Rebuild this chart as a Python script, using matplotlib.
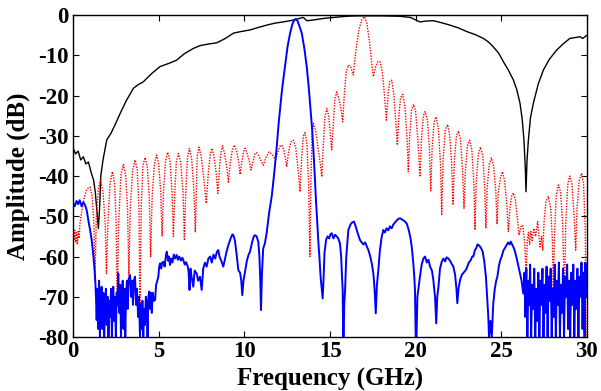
import numpy as np
import matplotlib
matplotlib.use("Agg")
import matplotlib.pyplot as plt

# ---------------- data ----------------
x_ticks = [0, 5, 10, 15, 20, 25, 30]
y_ticks = [0, -10, -20, -30, -40, -50, -60, -70, -80]

black = [(0, -33), (0.15, -34.5), (0.3, -33.8), (0.45, -36), (0.6, -35.2), (0.75, -37), (0.9, -36.5),
         (1.05, -39), (1.2, -41), (1.3, -44), (1.4, -49), (1.48, -53), (1.55, -48), (1.62, -40),
         (1.75, -36), (1.97, -31), (2.2, -29.5), (2.45, -27.3), (2.8, -24), (3.13, -21.1), (3.35, -19.5),
         (3.52, -18.2), (3.8, -17.3), (4.1, -16.6), (4.6, -14.5), (5.08, -12.8), (5.6, -12.0),
         (6.05, -11.2), (6.5, -9.6), (7.02, -8.3), (7.41, -7.6), (7.9, -7.2), (8.39, -6.9), (8.9, -5.8),
         (9.36, -4.5), (9.8, -4.1), (10.33, -3.7), (10.8, -3.1), (11.3, -2.5), (11.8, -2.0),
         (12.28, -1.7), (12.8, -1.3), (13.25, -0.8), (13.45, -0.6), (13.64, -1.4), (13.9, -1.3),
         (14.22, -1.1), (14.7, -0.8), (15.19, -0.6), (15.7, -0.4), (16.17, -0.25), (16.7, -0.2),
         (17.14, -0.2), (18.0, -0.2), (19.09, -0.3), (19.7, -0.6), (20.25, -1.7), (20.6, -1.5),
         (21.03, -1.4), (21.5, -1.9), (22.0, -2.5), (22.5, -3.2), (22.98, -4.1), (23.5, -4.9),
         (23.95, -5.8), (24.25, -6.7), (24.53, -7.9), (24.85, -9.5), (25.12, -11.6), (25.4, -13.6),
         (25.7, -16.1), (25.9, -18.5), (26.09, -21.9), (26.22, -26), (26.32, -31), (26.4, -38),
         (26.44, -43.9), (26.5, -36), (26.58, -31), (26.7, -25.5), (26.87, -21.9), (27.15, -17.2),
         (27.45, -13.7), (27.8, -11), (28.23, -8.7), (28.6, -7.2), (29.0, -5.8), (29.3, -5.6),
         (29.59, -5.4), (29.75, -5.8), (30.0, -5.0)]

red = [(0.0, -60), (0.0, -54), (0.05, -56), (0.1, -53.5), (0.15, -56.5), (0.2, -54), (0.25, -57),
       (0.3, -53.8), (0.35, -55.5), (0.4, -52), (0.5, -49), (0.65, -45.5), (0.8, -43.3), (0.99, -42.7),
       (1.12, -45), (1.22, -52), (1.28, -66), (1.36, -50), (1.48, -43), (1.61, -41), (1.75, -44),
       (1.88, -52), (1.95, -64.2), (2.05, -50), (2.17, -41.5), (2.3, -38.9), (2.43, -42), (2.52, -52),
       (2.58, -72.5), (2.66, -52), (2.8, -39.5), (2.94, -37.1), (3.08, -40), (3.18, -48), (3.26, -64.6),
       (3.34, -48), (3.48, -38.5), (3.62, -36), (3.75, -38.5), (3.85, -48), (3.91, -75), (3.98, -48),
       (4.08, -37.5), (4.2, -35.4), (4.33, -37.5), (4.45, -45), (4.53, -60), (4.62, -45), (4.75, -37),
       (4.88, -34.8), (5.0, -37), (5.12, -44), (5.2, -55), (5.28, -44), (5.4, -36.3), (5.53, -34.1),
       (5.66, -36.3), (5.78, -44), (5.86, -55), (5.94, -44), (6.03, -36.5), (6.15, -34.4),
       (6.28, -36.5), (6.42, -44), (6.5, -55.7), (6.58, -44), (6.68, -35.5), (6.79, -33.1),
       (6.92, -35.5), (7.05, -43), (7.14, -54), (7.2, -43), (7.25, -35), (7.35, -32.8), (7.48, -35),
       (7.62, -40), (7.78, -46.8), (7.9, -39), (8.0, -35), (8.1, -33.1), (8.22, -35), (8.35, -39),
       (8.45, -44.3), (8.55, -38), (8.62, -34.5), (8.72, -32.5), (8.85, -34.5), (8.98, -38),
       (9.07, -41.7), (9.18, -36.5), (9.3, -33.5), (9.42, -32.3), (9.55, -33.8), (9.67, -36.5),
       (9.75, -39.6), (9.85, -36.5), (9.95, -34), (10.04, -33.1), (10.15, -34.2), (10.3, -36.5),
       (10.39, -38.5), (10.5, -36.5), (10.62, -34.5), (10.72, -34.2), (10.85, -35), (11.0, -36.5),
       (11.11, -37.3), (11.25, -35.5), (11.44, -34.0), (11.6, -34.5), (11.75, -35.5), (11.83, -35.9),
       (11.95, -34), (12.08, -32.6), (12.18, -32.3), (12.3, -33.5), (12.4, -35.5), (12.47, -37.7),
       (12.58, -34), (12.72, -31.5), (12.86, -31.1), (13.0, -33), (13.15, -39), (13.25, -43.9),
       (13.35, -35), (13.45, -30), (13.54, -29.2), (13.65, -32), (13.75, -42), (13.83, -60),
       (13.88, -42), (13.95, -30), (14.03, -26.9), (14.15, -28.5), (14.3, -33), (14.45, -37.5),
       (14.52, -40.2), (14.6, -33), (14.7, -25.5), (14.81, -23.2), (14.92, -25), (15.02, -29.5),
       (15.1, -33.5), (15.18, -28), (15.28, -21), (15.39, -19.1), (15.5, -20.5), (15.65, -23.5),
       (15.74, -26.5), (15.83, -20), (15.95, -14), (16.07, -12.4), (16.2, -12.8), (16.36, -14.9),
       (16.5, -9), (16.7, -3.5), (16.85, -1.2), (17.0, -0.4), (17.15, -2), (17.3, -6.5),
       (17.45, -12.5), (17.53, -15.3), (17.65, -13), (17.8, -11.5), (17.92, -11.6), (18.05, -14),
       (18.18, -20), (18.29, -26.1), (18.4, -19), (18.5, -16.3), (18.6, -16.2), (18.72, -19.5),
       (18.85, -27), (18.93, -32.3), (19.02, -25), (19.12, -20.5), (19.25, -19.7), (19.38, -23),
       (19.5, -31), (19.57, -38.9), (19.65, -30), (19.76, -23.5), (19.88, -22.2), (20.0, -24),
       (20.13, -31), (20.25, -40.2), (20.35, -30), (20.45, -25), (20.55, -24), (20.68, -26),
       (20.8, -33), (20.88, -43.7), (20.96, -33), (21.08, -26.5), (21.19, -25.3), (21.32, -28),
       (21.45, -37), (21.52, -49.5), (21.6, -36), (21.73, -28.5), (21.86, -27.2), (21.98, -29.5),
       (22.1, -37), (22.18, -47.2), (22.26, -36), (22.38, -30), (22.49, -28.8), (22.62, -31),
       (22.74, -39), (22.82, -48), (22.9, -39), (23.02, -32.5), (23.15, -31.1), (23.28, -33.5),
       (23.4, -42), (23.46, -53.4), (23.53, -42), (23.66, -34.5), (23.78, -32.8), (23.92, -35),
       (24.03, -43), (24.1, -53), (24.17, -43), (24.3, -37), (24.42, -35.5), (24.55, -37.5),
       (24.68, -44), (24.75, -52), (24.82, -44), (24.95, -40.5), (25.06, -38.9), (25.18, -41),
       (25.32, -47), (25.41, -53.8), (25.5, -48), (25.6, -45), (25.7, -44.2), (25.82, -46),
       (25.95, -51), (26.03, -54.7), (26.15, -52.5), (26.25, -52.2), (26.35, -56), (26.45, -63.8),
       (26.52, -56), (26.58, -54), (26.65, -57), (26.72, -53.8), (26.8, -56), (26.9, -53), (27.0, -55),
       (27.12, -51.3), (27.2, -55), (27.26, -57.6), (27.35, -55), (27.42, -58.4), (27.5, -51),
       (27.6, -46.5), (27.74, -45.1), (27.88, -48), (27.98, -56), (28.03, -68.7), (28.1, -55),
       (28.2, -45), (28.33, -42.2), (28.46, -44), (28.58, -52), (28.68, -70), (28.76, -52), (28.88, -42),
       (29.0, -40), (29.12, -42), (29.25, -50), (29.34, -58.4), (29.42, -48), (29.55, -41),
       (29.69, -39.3), (29.8, -42), (29.9, -53.4), (29.95, -80)]

blue = [(0, -46.8), (0.1, -47.5), (0.2, -46.2), (0.3, -47), (0.39, -46), (0.5, -47.5), (0.6, -46.5),
        (0.7, -47.2), (0.8, -48.5), (0.89, -50.9), (1.0, -53.5), (1.09, -55.9), (1.17, -59),
        (1.24, -62.5), (1.3, -66), (1.34, -70), (1.38, -75.8), (1.42, -68), (1.47, -78), (1.52, -66),
        (1.57, -80), (1.62, -70), (1.67, -67.5), (1.72, -78), (1.77, -69), (1.82, -80), (1.87, -72),
        (1.92, -68), (1.97, -77), (2.02, -70), (2.07, -80), (2.12, -71), (2.17, -75), (2.22, -68),
        (2.27, -80), (2.32, -70), (2.35, -67.5), (2.4, -76), (2.45, -70), (2.5, -80), (2.55, -69),
        (2.6, -72), (2.64, -64.2), (2.7, -74), (2.75, -67), (2.8, -80), (2.85, -70), (2.9, -66),
        (2.95, -78), (3.0, -68), (3.05, -80), (3.1, -69), (3.15, -66), (3.2, -73), (3.25, -65.5),
        (3.33, -64.6), (3.4, -70), (3.45, -66), (3.5, -72), (3.55, -66), (3.62, -65), (3.68, -72),
        (3.73, -68), (3.8, -75), (3.85, -70), (3.91, -80), (3.96, -72), (4.0, -78), (4.05, -71),
        (4.1, -80), (4.15, -73), (4.2, -77), (4.25, -70), (4.3, -71.6), (4.35, -80), (4.4, -70),
        (4.45, -68.7), (4.5, -73), (4.55, -69), (4.6, -74), (4.65, -69), (4.72, -71), (4.79, -70.8),
        (4.85, -67), (4.92, -66), (4.98, -65), (5.03, -62.5), (5.08, -61.7), (5.15, -63), (5.2, -61.5),
        (5.27, -61.3), (5.35, -62.5), (5.42, -59.8), (5.47, -58.8), (5.55, -61), (5.6, -60),
        (5.66, -62.1), (5.72, -60.5), (5.8, -61.5), (5.88, -59.5), (5.95, -60.5), (6.05, -59.6),
        (6.12, -60.8), (6.2, -60), (6.3, -61), (6.38, -60.3), (6.44, -60.9), (6.52, -62), (6.6, -61.4),
        (6.7, -62.5), (6.75, -64), (6.8, -68.3), (6.86, -63), (6.92, -65), (7.02, -67.5), (7.1, -63.5),
        (7.22, -64.2), (7.3, -66), (7.41, -65), (7.51, -68.3), (7.6, -63), (7.7, -61.5), (7.8, -62.5),
        (7.9, -60.5), (8.0, -60), (8.1, -61.5), (8.2, -59.5), (8.3, -60.5), (8.4, -58.8), (8.48, -58.4),
        (8.55, -60), (8.65, -61), (8.77, -62.5), (8.85, -61), (8.95, -59), (9.07, -57.1), (9.2, -55.5),
        (9.3, -54.5), (9.36, -54.7), (9.45, -56), (9.55, -59.5), (9.65, -63.4), (9.75, -64),
        (9.82, -66), (9.88, -69.6), (9.95, -66), (10.04, -63.8), (10.15, -61), (10.25, -59.5),
        (10.33, -58.8), (10.45, -56.5), (10.55, -55), (10.62, -54.7), (10.72, -55), (10.82, -56.5),
        (10.88, -60), (10.93, -66), (10.97, -73.3), (11.03, -64), (11.1, -58), (11.2, -56.7),
        (11.3, -54.2), (11.45, -49), (11.6, -45), (11.75, -39), (11.89, -32.7), (12.0, -27),
        (12.08, -23.6), (12.2, -18.5), (12.37, -12.8), (12.52, -7.9), (12.67, -4.5), (12.8, -2.3),
        (12.9, -1.3), (12.99, -1.0), (13.1, -1.4), (13.22, -2.8), (13.35, -4.5), (13.5, -8.2),
        (13.64, -12.8), (13.76, -18), (13.87, -23.6), (13.95, -28), (14.03, -33.5), (14.1, -39),
        (14.18, -46), (14.26, -52), (14.33, -57), (14.38, -60), (14.45, -65), (14.52, -68),
        (14.57, -70.4), (14.62, -66), (14.68, -59), (14.77, -55.9), (14.85, -55), (14.95, -55.5),
        (15.02, -54.5), (15.1, -54.2), (15.2, -55.5), (15.3, -54.6), (15.39, -55), (15.48, -55.5),
        (15.58, -56.7), (15.65, -60), (15.7, -65), (15.74, -68.3), (15.77, -80), (15.8, -80),
        (15.83, -72), (15.88, -68.3), (15.95, -60), (16.07, -53.4), (16.2, -52), (16.3, -51.5),
        (16.4, -51.3), (16.5, -52.5), (16.6, -54), (16.75, -55.9), (16.85, -56.5), (16.95, -57),
        (17.05, -56.5), (17.15, -57.5), (17.24, -58.4), (17.35, -60), (17.45, -62), (17.53, -64.2),
        (17.6, -68), (17.67, -74.1), (17.74, -67), (17.82, -63.4), (17.9, -59), (18.0, -55.5),
        (18.11, -53.4), (18.2, -54), (18.3, -53), (18.4, -53.5), (18.5, -52.5), (18.6, -53),
        (18.7, -52), (18.8, -51.5), (18.9, -51), (19.0, -50.6), (19.09, -50.5), (19.2, -50.8),
        (19.35, -51.2), (19.48, -51.8), (19.6, -53.5), (19.7, -55.5), (19.77, -57.6), (19.85, -61),
        (19.92, -65), (19.96, -68.3), (20.0, -80), (20.05, -80), (20.1, -70), (20.15, -68.3),
        (20.25, -65), (20.35, -62), (20.45, -60.5), (20.55, -60), (20.65, -61.5), (20.75, -60.8),
        (20.84, -62.5), (20.95, -63.5), (21.03, -65.8), (21.13, -70), (21.2, -76.6), (21.26, -70),
        (21.33, -67.5), (21.42, -63), (21.52, -61.3), (21.62, -60.5), (21.72, -61.2), (21.8, -60.2),
        (21.91, -60.5), (22.0, -61), (22.1, -61.8), (22.2, -62.5), (22.3, -64.5), (22.38, -68),
        (22.43, -71.6), (22.5, -68), (22.59, -65.8), (22.7, -64.5), (22.8, -64), (22.9, -63.5),
        (22.98, -62.9), (23.1, -61.5), (23.2, -61), (23.3, -60), (23.37, -60), (23.45, -58.5),
        (23.55, -57.8), (23.6, -57), (23.66, -57.1), (23.75, -57.5), (23.83, -58), (23.91, -58.8),
        (24.0, -61), (24.1, -65), (24.17, -70), (24.24, -75), (24.28, -80), (24.36, -76), (24.44, -80),
        (24.53, -71.6), (24.62, -68), (24.7, -66), (24.77, -65), (24.85, -62.5), (24.93, -61),
        (25.02, -60), (25.12, -58.5), (25.22, -57.8), (25.31, -57.1), (25.4, -56.5), (25.48, -57),
        (25.55, -56.3), (25.63, -57), (25.72, -57.8), (25.8, -58.8), (25.9, -60.5), (26.0, -62.5),
        (26.09, -64.2), (26.18, -66), (26.28, -69.2), (26.35, -64), (26.4, -75), (26.46, -63),
        (26.52, -80), (26.58, -66), (26.63, -72), (26.68, -62), (26.74, -80), (26.8, -67), (26.86, -73),
        (26.92, -63), (26.98, -80), (27.04, -68), (27.1, -76), (27.16, -64), (27.22, -80), (27.28, -66),
        (27.34, -72), (27.4, -63), (27.46, -80), (27.52, -67), (27.58, -74), (27.64, -62.5),
        (27.7, -80), (27.76, -65), (27.82, -71), (27.88, -63), (27.94, -80), (28.0, -68), (28.06, -75),
        (28.12, -62), (28.18, -80), (28.24, -66), (28.3, -72), (28.36, -61.5), (28.42, -80),
        (28.48, -67), (28.54, -74), (28.6, -63), (28.66, -80), (28.72, -65), (28.78, -70), (28.84, -62),
        (28.9, -78), (28.96, -66), (29.02, -80), (29.08, -64), (29.14, -72), (29.2, -62), (29.26, -80),
        (29.32, -66), (29.38, -73), (29.44, -63), (29.5, -80), (29.56, -65), (29.62, -70),
        (29.68, -61.5), (29.74, -78), (29.8, -64), (29.86, -80), (29.9, -61.5), (29.95, -70),
        (30.0, -62)]

# ---------------- plotting ----------------
plt.rcParams['font.family'] = ['Liberation Serif', 'DejaVu Serif']
plt.rcParams['font.weight'] = 'bold'

fig = plt.figure(figsize=(6.01, 3.91), dpi=100)
ax = fig.add_axes([0.1215, 0.138, 0.8552, 0.8235])

bx, by = np.array(black).T
rx, ry = np.array(red).T
ux, uy = np.array(blue).T

ax.plot(bx, by, color='black', lw=1.0)
ax.plot(rx, ry, color='red', lw=1.0, linestyle=(0, (1, 1)))
ax.plot(ux, uy, color='blue', lw=1.4)

ax.set_xlim(0, 30)
ax.set_ylim(-80, 0)
ax.set_xticks(x_ticks)
ax.set_yticks(y_ticks)
ax.set_xticklabels([str(v) for v in x_ticks], fontsize=16.5, fontweight='bold')
ax.set_yticklabels([str(v) for v in y_ticks], fontsize=16.5, fontweight='bold')
ax.tick_params(direction='in', length=4, width=0.8, top=True, right=True, pad=3)
ax.tick_params(axis='y', pad=3)
for s in ax.spines.values():
    s.set_linewidth(1.0)

ax.set_xlabel('Frequency (GHz)', fontsize=18, fontweight='bold', labelpad=4)
ax.set_ylabel('Amplitude (dB)', fontsize=18, fontweight='bold', labelpad=6)

fig.savefig('out.png', dpi=100)
